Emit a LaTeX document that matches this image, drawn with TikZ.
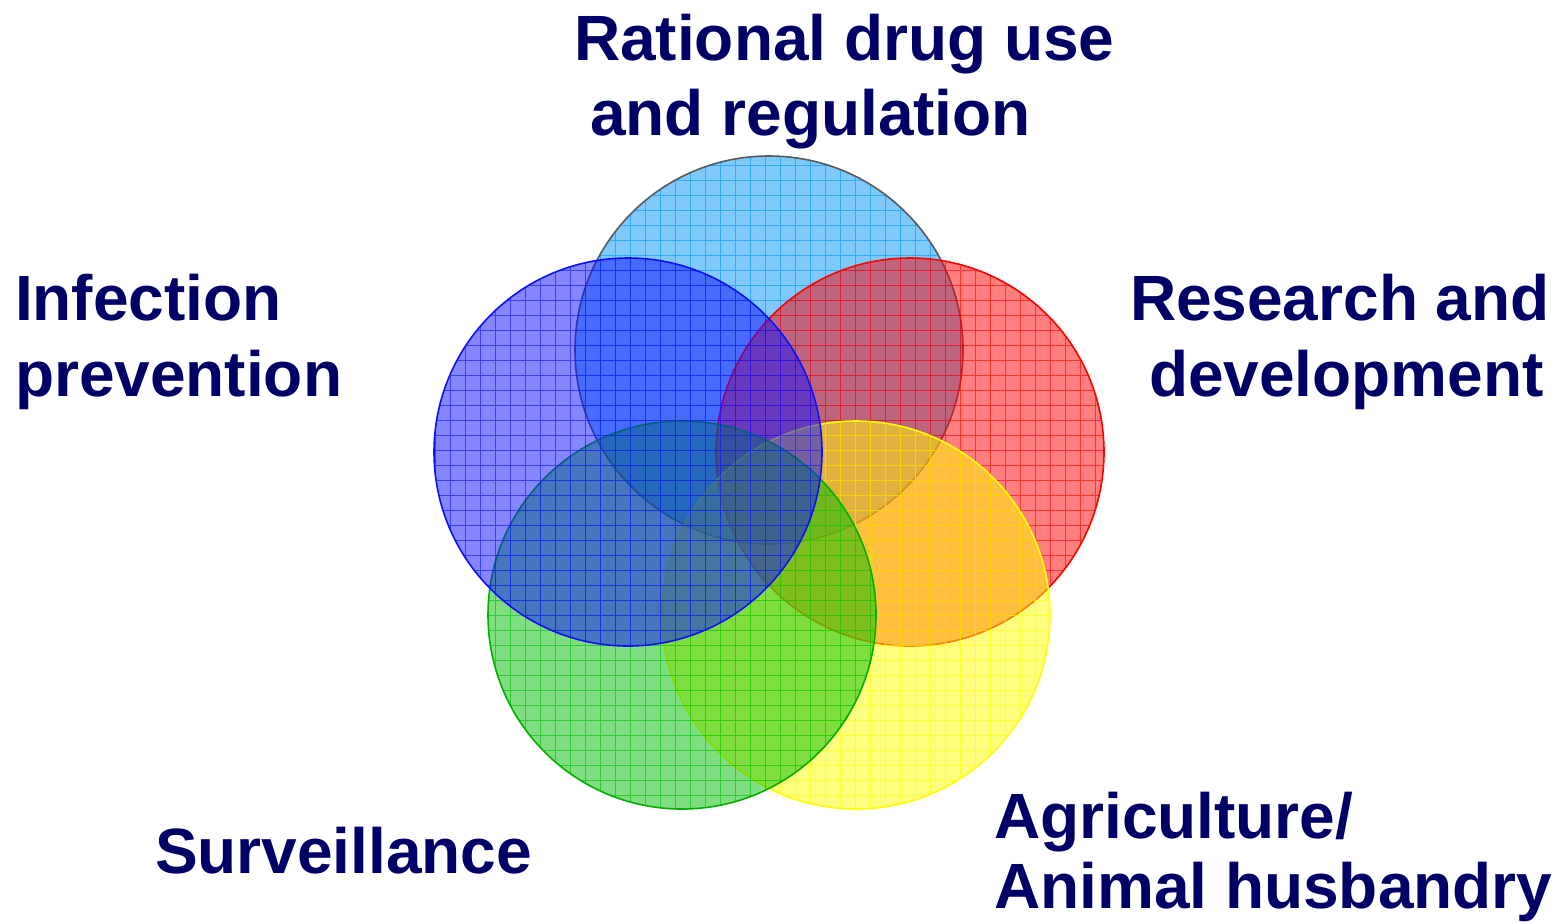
\documentclass[tikz,border=0pt]{standalone}
\usepackage{fontspec}
\setmainfont{Liberation Sans}
\definecolor{navy}{RGB}{0,0,102}
\definecolor{clb}{RGB}{0,148,250}
\definecolor{cbl}{RGB}{15,15,255}
\definecolor{cre}{RGB}{255,0,0}
\definecolor{cgr}{RGB}{0,190,0}
\definecolor{cye}{RGB}{255,255,0}
\definecolor{lbborder}{RGB}{85,90,95}
\definecolor{grborder}{RGB}{0,175,0}
\tikzset{
  lbl/.style={anchor=base west,inner sep=0pt,outer sep=0pt,text=navy,font=\fontsize{64}{75}\selectfont\bfseries},
}
\newcommand{\gridcircle}[3]{%
  \begin{scope}
    \clip (#1) circle[radius=194pt];
    \fill[#2,opacity=0.5] (#1) circle[radius=194pt];
    \draw[#2,opacity=0.6,line width=0.8pt,step=15pt] ($(#1)+(-200,-200)$) grid ($(#1)+(200,200)$);
  \end{scope}
  \draw[#3,line width=1.6pt] (#1) circle[radius=194pt];
}
\usetikzlibrary{calc}
\begin{document}
\begin{tikzpicture}[x=1pt,y=-1pt]
\useasboundingbox (0,0) rectangle (1554,922);
\fill[white] (0,0) rectangle (1554,922);
\coordinate (LB) at (769,350);
\coordinate (BL) at (628,452);
\coordinate (RE) at (910,452);
\coordinate (GR) at (682,615);
\coordinate (YE) at (856,615);
\gridcircle{LB}{clb}{lbborder}
\gridcircle{RE}{cre}{cre}
\gridcircle{YE}{cye}{cye}
\gridcircle{GR}{cgr}{grborder}
\gridcircle{BL}{cbl}{cbl}
\node[lbl] (t1a) at (574,60) {Rational drug use};
\node[lbl] (t1b) at (590,135) {and regulation};
\node[lbl] (t2a) at (15,320) {Infection};
\node[lbl] (t2b) at (15,396) {prevention};
\node[lbl] (t3a) at (1130,320) {Research and};
\node[lbl] (t3b) at (1149,396) {development};
\node[lbl] (t4) at (155,873) {Surveillance};
\node[lbl] (t5a) at (994,838) {Agriculture/};
\node[lbl] (t5b) at (994,908) {Animal husbandry};
\end{tikzpicture}
\end{document}
